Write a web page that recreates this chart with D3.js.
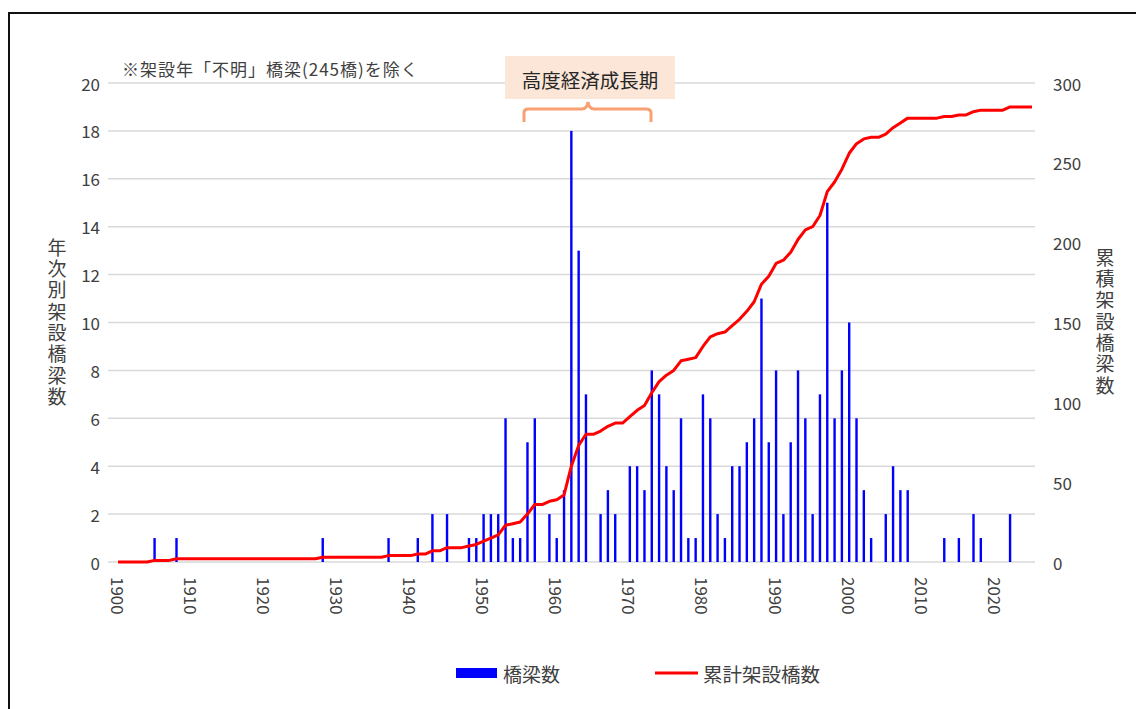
<!DOCTYPE html>
<html>
<head>
<meta charset="utf-8">
<script src="https://cdn.jsdelivr.net/npm/d3@7"></script>
<style>
	body { margin: 0; background: #fff; }
	svg { display: block; font-family: "Noto Sans CJK JP", "Noto Sans", sans-serif; }
</style>
</head>
<body>
<svg id="chart" width="1136" height="709"></svg>
<script>
// years with at least one bridge built, and the count for that year
var years = [1905, 1908, 1928, 1937, 1941, 1943, 1945, 1948, 1949, 1950, 1951, 1952, 1953, 1954, 1955, 1956, 1957,
	1959, 1960, 1961, 1962, 1963, 1964, 1966, 1967, 1968, 1970, 1971, 1972, 1973, 1974, 1975, 1976, 1977, 1978, 1979,
	1980, 1981, 1982, 1983, 1984, 1985, 1986, 1987, 1988, 1989, 1990, 1991, 1992, 1993, 1994, 1995, 1996, 1997, 1998,
	1999, 2000, 2001, 2002, 2003, 2005, 2006, 2007, 2008, 2013, 2015, 2017, 2018, 2022];
var counts = [1, 1, 1, 1, 1, 2, 2, 1, 1, 2, 2, 2, 6, 1, 1, 5, 6,
	2, 1, 3, 18, 13, 7, 2, 3, 2, 4, 4, 3, 8, 7, 4, 3, 6, 1, 1,
	7, 6, 2, 1, 4, 4, 5, 6, 11, 5, 8, 2, 5, 8, 6, 2, 7, 15, 6,
	8, 10, 6, 3, 1, 2, 4, 3, 3, 1, 1, 2, 1, 2];
var firstYear = 1900, lastYear = 2025;
var leftTicks = [0, 2, 4, 6, 8, 10, 12, 14, 16, 18, 20];
var rightTicks = [0, 50, 100, 150, 200, 250, 300];
var xTicks = [1900, 1910, 1920, 1930, 1940, 1950, 1960, 1970, 1980, 1990, 2000, 2010, 2020];

var svg = d3.select("#chart");
var textColor = "#404040";

// cumulative count for every year of the axis
var byYear = {};
years.forEach(function(y, i) { byYear[y] = counts[i]; });
var allYears = d3.range(firstYear, lastYear + 1);
var cumulative = d3.cumsum(allYears, function(y) { return byYear[y] || 0; });

var x = d3.scaleLinear().domain([firstYear, lastYear]).range([118, 1032]);
var yLeft = d3.scaleLinear().domain([0, 20]).range([562, 83]);
var yRight = d3.scaleLinear().domain([0, 300]).range([562, 83]);

// outer frame
svg.append("rect")
	.attr("x", 9).attr("y", 13)
	.attr("width", 1140).attr("height", 710)
	.attr("fill", "none").attr("stroke", "#111").attr("stroke-width", 2);

// gridlines
svg.append("g").selectAll("line")
	.data(leftTicks)
	.enter().append("line")
	.attr("x1", 108).attr("x2", 1035)
	.attr("y1", function(d) { return yLeft(d); })
	.attr("y2", function(d) { return yLeft(d); })
	.attr("stroke", "#d9d9d9").attr("stroke-width", 1.5);

// left axis labels
svg.append("g").selectAll("text")
	.data(leftTicks)
	.enter().append("text")
	.attr("x", 100)
	.attr("y", function(d) { return yLeft(d); })
	.attr("text-anchor", "end")
	.attr("dominant-baseline", "central")
	.attr("font-size", 17)
	.attr("fill", textColor)
	.text(function(d) { return d; });

// right axis labels
svg.append("g").selectAll("text")
	.data(rightTicks)
	.enter().append("text")
	.attr("x", 1053)
	.attr("y", function(d) { return yRight(d); })
	.attr("dominant-baseline", "central")
	.attr("font-size", 17)
	.attr("fill", textColor)
	.text(function(d) { return d; });

// x labels, rotated
svg.append("g").selectAll("text")
	.data(xTicks)
	.enter().append("text")
	.attr("transform", function(d) { return "translate(" + x(d) + ",577) rotate(90)"; })
	.attr("dominant-baseline", "central")
	.attr("font-size", 17)
	.attr("fill", textColor)
	.text(function(d) { return d; });

// vertical axis titles
function verticalTitle(label, cx, top) {
	svg.append("text")
		.attr("x", cx)
		.attr("y", top)
		.attr("style", "writing-mode: vertical-rl; letter-spacing: 2.3px")
		.attr("font-size", 19)
		.attr("fill", textColor)
		.text(label);
}
verticalTitle("年次別架設橋梁数", 57, 238);
verticalTitle("累積架設橋梁数", 1105, 248);

// bars
svg.append("g").selectAll("rect")
	.data(years)
	.enter().append("rect")
	.attr("x", function(d) { return x(d) - 1.2; })
	.attr("width", 2.4)
	.attr("y", function(d, i) { return yLeft(counts[i]); })
	.attr("height", function(d, i) { return yLeft(0) - yLeft(counts[i]); })
	.attr("fill", "#0000ff");

// cumulative line
var line = d3.line()
	.x(function(d) { return x(d); })
	.y(function(d, i) { return yRight(cumulative[i]); });
svg.append("path")
	.datum(allYears)
	.attr("d", line)
	.attr("fill", "none")
	.attr("stroke", "#ff0000")
	.attr("stroke-width", 3)
	.attr("stroke-linejoin", "round");

// note
svg.append("text")
	.attr("x", 122).attr("y", 68)
	.attr("dominant-baseline", "central")
	.attr("font-size", 17)
	.attr("letter-spacing", 1)
	.attr("fill", textColor)
	.text("※架設年「不明」橋梁(245橋)を除く");

// high growth period annotation
svg.append("rect")
	.attr("x", 505).attr("y", 56)
	.attr("width", 170).attr("height", 43)
	.attr("fill", "#fce6d8");
svg.append("text")
	.attr("x", 590).attr("y", 79)
	.attr("text-anchor", "middle")
	.attr("dominant-baseline", "central")
	.attr("font-size", 19.5)
	.attr("fill", "#262626")
	.text("高度経済成長期");
svg.append("path")
	.attr("d", "M524,122 L524,113 Q524,109 528,109 L582,109 Q587,109 588,102 Q589,109 594,109 L646,109 Q651,109 651,113 L651,122")
	.attr("fill", "none")
	.attr("stroke", "#f8a274")
	.attr("stroke-width", 3);

// legend
svg.append("rect")
	.attr("x", 456).attr("y", 668)
	.attr("width", 41).attr("height", 10)
	.attr("fill", "#0000ff");
svg.append("text")
	.attr("x", 503).attr("y", 673)
	.attr("dominant-baseline", "central")
	.attr("font-size", 19)
	.attr("fill", textColor)
	.text("橋梁数");
svg.append("line")
	.attr("x1", 655).attr("x2", 698)
	.attr("y1", 673).attr("y2", 673)
	.attr("stroke", "#ff0000").attr("stroke-width", 3);
svg.append("text")
	.attr("x", 703).attr("y", 673)
	.attr("dominant-baseline", "central")
	.attr("font-size", 19.5)
	.attr("fill", textColor)
	.text("累計架設橋数");
</script>
</body>
</html>
